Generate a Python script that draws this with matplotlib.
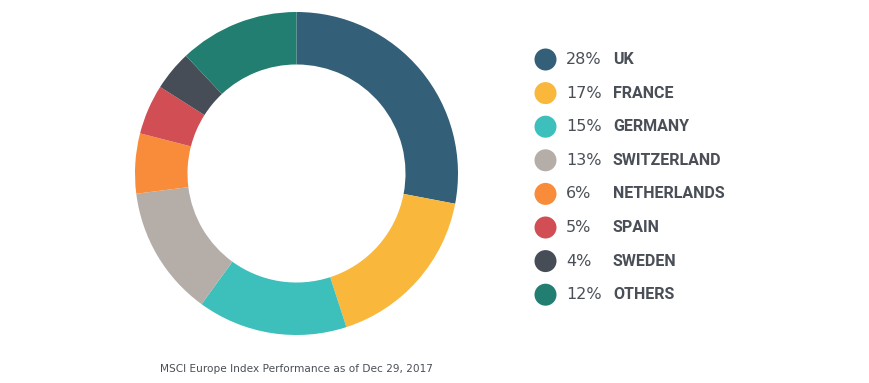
import matplotlib.pyplot as plt
from matplotlib.patches import Circle

countries = ['UK', 'FRANCE', 'GERMANY', 'SWITZERLAND', 'NETHERLANDS', 'SPAIN', 'SWEDEN', 'OTHERS']
weights = [28, 17, 15, 13, 6, 5, 4, 12]
colors = ['#345f79', '#f9b73b', '#3dbfbb', '#b5ada8', '#f98c3b', '#d14f54', '#474d56', '#227e71']
caption = 'MSCI Europe Index Performance as of Dec 29, 2017'

W, H = 870, 383
fig = plt.figure(figsize=(W / 100, H / 100), dpi=100)

# donut
cx, cy, r = 296.5, 173.5, 161.5
ax = fig.add_axes([(cx - r) / W, (H - cy - r) / H, 2 * r / W, 2 * r / H])
ax.pie(weights, colors=colors, startangle=90, counterclock=False,
       wedgeprops=dict(width=0.325, edgecolor='none'))
ax.set_xlim(-1, 1)
ax.set_ylim(-1, 1)
ax.set_aspect('equal')
ax.axis('off')

# legend + caption in pixel coords
ov = fig.add_axes([0, 0, 1, 1])
ov.set_xlim(0, W)
ov.set_ylim(H, 0)
ov.axis('off')

txt = '#4a4f57'
y0, dy = 59.5, 33.6
for i, (c, w, col) in enumerate(zip(countries, weights, colors)):
    y = y0 + i * dy
    ov.add_patch(Circle((545.5, y), 11, color=col, lw=0))
    ov.text(566, y, f'{w}%', fontsize=11.5, family='DejaVu Sans', color=txt,
            va='center', ha='left')
    ov.text(613, y, c, fontsize=11.5, family='Roboto', fontweight='bold',
            color=txt, va='center', ha='left')

ov.text(160, 369, caption, fontsize=7.55, family='DejaVu Sans', color=txt,
        va='center', ha='left')

fig.savefig('out.png', dpi=100)
